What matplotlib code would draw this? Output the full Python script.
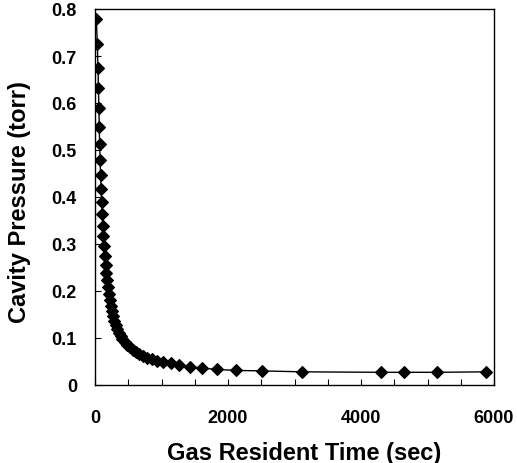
import matplotlib
matplotlib.use("Agg")
import matplotlib.pyplot as plt

# Gas resident time (sec) and cavity pressure (torr)
time_sec = [20, 35, 45, 52, 58, 64, 70, 77, 84, 92,
            100, 108, 117, 127, 137, 148, 159, 170, 182, 195,
            208, 222, 237, 253, 272, 292, 313, 336, 360, 385,
            413, 448, 485, 525, 568, 615, 665, 720, 780, 850,
            935, 1030, 1146, 1256, 1422, 1609, 1835, 2127, 2514, 3118,
            4299, 4650, 5138, 5882]
pressure_torr = [0.778, 0.725, 0.675, 0.632, 0.590, 0.550, 0.513, 0.478, 0.446, 0.416,
                 0.389, 0.363, 0.338, 0.316, 0.295, 0.275, 0.256, 0.239, 0.223, 0.208,
                 0.194, 0.181, 0.169, 0.158, 0.147, 0.137, 0.128, 0.119, 0.111, 0.104,
                 0.097, 0.091, 0.085, 0.080, 0.075, 0.070, 0.066, 0.062, 0.058, 0.055,
                 0.052, 0.050, 0.047, 0.043, 0.039, 0.036, 0.033, 0.031, 0.030, 0.028,
                 0.027, 0.027, 0.027, 0.028]

x_ticks = [0, 500, 1000, 1500, 2000, 2500, 3000, 3500, 4000, 4500, 5000, 5500, 6000]
x_tick_labels = ["0", "", "", "", "2000", "", "", "", "4000", "", "", "", "6000"]
y_ticks = [0, 0.1, 0.2, 0.3, 0.4, 0.5, 0.6, 0.7, 0.8]
y_tick_labels = ["0", "0.1", "0.2", "0.3", "0.4", "0.5", "0.6", "0.7", "0.8"]

x_label = "Gas Resident Time (sec)"
y_label = "Cavity Pressure (torr)"

plt.rcParams['font.family'] = ['Liberation Sans', 'DejaVu Sans']
plt.rcParams['font.weight'] = 'bold'

fig = plt.figure(figsize=(5.17, 4.64), dpi=100)
ax = fig.add_axes([95/517, 1 - 386/464, 399/517, 376/464])

ax.plot(time_sec, pressure_torr, color='black', linewidth=1.0,
        marker='D', markersize=5.8, markerfacecolor='black',
        markeredgecolor='black', markeredgewidth=0.8)

ax.set_xlim(0, 6000)
ax.set_ylim(0, 0.8)
ax.set_xticks(x_ticks)
ax.set_xticklabels(x_tick_labels, fontsize=13, fontweight='bold')
ax.set_yticks(y_ticks)
ax.set_yticklabels(y_tick_labels, fontsize=13, fontweight='bold')

ax.tick_params(axis='x', direction='in', length=4, width=0.8, pad=17)
ax.tick_params(axis='y', direction='in', length=4, width=0.8, pad=13)

for sp in ax.spines.values():
    sp.set_linewidth(1.0)
    sp.set_color('black')

ax.set_xlabel(x_label, fontsize=17, fontweight='bold')
ax.set_ylabel(y_label, fontsize=17, fontweight='bold')
ax.xaxis.set_label_coords(0.523, -0.148)
ax.yaxis.set_label_coords(-0.16, 0.49)

fig.savefig("out.png", dpi=100)
